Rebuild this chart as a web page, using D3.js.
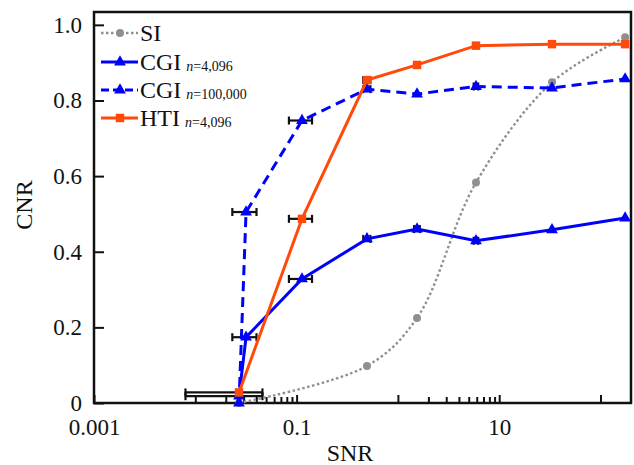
<!DOCTYPE html>
<html>
<head>
<meta charset="utf-8">
<script src="https://cdn.jsdelivr.net/npm/d3@7"></script>
<style>
  body { margin: 0; background: #fff; }
  svg text { font-family: "Liberation Serif", "DejaVu Serif", serif; fill: #111; }
</style>
</head>
<body>
<script>
// values
var snr = [0.027, 0.0317, 0.113, 0.495, 1.545, 5.9, 33.2, 175];

// SI has no points at the 2nd and 3rd SNR
var siSnr = [0.027, 0.495, 1.545, 5.9, 33.2, 175];
var siCnr = [0.0, 0.098, 0.225, 0.583, 0.848, 0.967];

var cgiSmallCnr = [0.018, 0.174, 0.328, 0.434, 0.460, 0.429, 0.458, 0.489];
var cgiSmallErr = [0.019, 0.0085, 0.029, 0.04, 0.1, 0.3, 0, 0];

var cgiLargeCnr = [0.0, 0.505, 0.747, 0.830, 0.817, 0.837, 0.833, 0.857];
var cgiLargeErr = [0, 0.0085, 0.029, 0.04, 0, 0.3, 0, 0];

// HTI skips the 2nd SNR
var htiSnr = [0.027, 0.113, 0.495, 1.545, 5.9, 33.2, 175];
var htiCnr = [0.028, 0.487, 0.854, 0.894, 0.945, 0.949, 0.949];
var htiErr = [0.019, 0.029, 0.04, 0, 0, 0, 0];

var xLabelTicks = [0.001, 0.1, 10];
var xPlainTicks = [1, 100];
var xMinorTicks = [0.01, 0.02, 0.03, 0.04, 0.05, 0.06, 0.07, 0.08, 0.09,
                   2, 3, 4, 5, 6, 7, 8, 9];
var yTicks = [0, 0.2, 0.4, 0.6, 0.8, 1.0];

var w = 634;
var h = 465;
// plot box (window.top is taken, so own names)
var plotL = 94, plotR = 631, plotT = 12, plotB = 403;

var svg = d3.select("body").append("svg")
    .attr("width", w)
    .attr("height", h);

var x = d3.scaleLog().domain([0.001, 200]).range([plotL, plotR]);
var y = d3.scaleLinear().domain([0, 1.034]).range([plotB, plotT]);

var blue = "#0000ff";
var orange = "#ff4a0a";
var grey = "#8f8f8f";

// axes - ticks point inward
var xAxis = svg.append("g")
    .attr("transform", "translate(0," + plotB + ")")
    .call(d3.axisBottom(x)
        .tickValues(xLabelTicks)
        .tickSize(-8)
        .tickPadding(16)
        .tickFormat(function(d) { return d === 0.001 ? "0.001" : d === 0.1 ? "0.1" : "10"; }));
xAxis.selectAll("text").attr("font-size", 23);

svg.append("g")
    .attr("transform", "translate(0," + plotB + ")")
    .call(d3.axisBottom(x).tickValues(xPlainTicks).tickSize(-8).tickFormat(""));

svg.append("g")
    .attr("transform", "translate(0," + plotB + ")")
    .call(d3.axisBottom(x).tickValues(xMinorTicks).tickSize(-6).tickFormat(""));

var yAxis = svg.append("g")
    .attr("transform", "translate(" + plotL + ",0)")
    .call(d3.axisLeft(y)
        .tickValues(yTicks)
        .tickSize(-10)
        .tickPadding(12)
        .tickFormat(function(d) { return d === 0 ? "0" : d.toFixed(1); }));
yAxis.selectAll("text").attr("font-size", 23);

svg.selectAll(".domain").remove();
svg.selectAll(".tick line").attr("stroke", "#111").attr("stroke-width", 2);

// frame
svg.append("rect")
    .attr("x", plotL)
    .attr("y", plotT)
    .attr("width", plotR - plotL)
    .attr("height", plotB - plotT)
    .attr("fill", "none")
    .attr("stroke", "#111")
    .attr("stroke-width", 2.5);

svg.append("text")
    .attr("x", 350)
    .attr("y", 461)
    .attr("text-anchor", "middle")
    .attr("font-size", 24)
    .text("SNR");

svg.append("text")
    .attr("transform", "translate(32,205) rotate(-90)")
    .attr("text-anchor", "middle")
    .attr("font-size", 24)
    .text("CNR");

// error bars first, markers sit over them
function errorBars(xs, ys, errs) {
    var pts = [];
    xs.forEach(function(v, i) {
        if (errs[i] > 0) pts.push({ x0: v - errs[i], x1: v + errs[i], y: ys[i] });
    });
    var g = svg.append("g").attr("stroke", "#111").attr("stroke-width", 2.2);
    g.selectAll("line.bar").data(pts).enter().append("line")
        .attr("x1", function(d) { return x(d.x0); })
        .attr("x2", function(d) { return x(d.x1); })
        .attr("y1", function(d) { return y(d.y); })
        .attr("y2", function(d) { return y(d.y); });
    g.selectAll("line.capl").data(pts).enter().append("line")
        .attr("x1", function(d) { return x(d.x0); })
        .attr("x2", function(d) { return x(d.x0); })
        .attr("y1", function(d) { return y(d.y) - 4; })
        .attr("y2", function(d) { return y(d.y) + 4; });
    g.selectAll("line.capr").data(pts).enter().append("line")
        .attr("x1", function(d) { return x(d.x1); })
        .attr("x2", function(d) { return x(d.x1); })
        .attr("y1", function(d) { return y(d.y) - 4; })
        .attr("y2", function(d) { return y(d.y) + 4; });
}

errorBars(snr, cgiSmallCnr, cgiSmallErr);
errorBars(snr, cgiLargeCnr, cgiLargeErr);
errorBars(htiSnr, htiCnr, htiErr);

function series(xs, ys, opt) {
    var data = xs.map(function(v, i) { return [v, ys[i]]; });
    var line = d3.line()
        .x(function(d) { return x(d[0]); })
        .y(function(d) { return y(d[1]); })
        .curve(opt.curve || d3.curveLinear);
    svg.append("path")
        .datum(data)
        .attr("d", line)
        .attr("fill", "none")
        .attr("stroke", opt.color)
        .attr("stroke-width", opt.width)
        .attr("stroke-dasharray", opt.dash || null);
    svg.append("g").selectAll("path")
        .data(data)
        .enter()
        .append("path")
        .attr("transform", function(d) { return "translate(" + x(d[0]) + "," + y(d[1]) + ")"; })
        .attr("d", d3.symbol().type(opt.symbol).size(opt.size))
        .attr("fill", opt.color);
}

var styles = [
    { color: grey, width: 2.4, dash: "2.5,2.5", symbol: d3.symbolCircle, size: 50, curve: d3.curveCatmullRom.alpha(0.5) },
    { color: blue, width: 3, symbol: d3.symbolTriangle, size: 60 },
    { color: blue, width: 3, dash: "10,6", symbol: d3.symbolTriangle, size: 60 },
    { color: orange, width: 3, symbol: d3.symbolSquare, size: 72 }
];

series(siSnr, siCnr, styles[0]);
series(snr, cgiSmallCnr, styles[1]);
series(snr, cgiLargeCnr, styles[2]);
series(htiSnr, htiCnr, styles[3]);

// legend
var legendNames = ["SI", "CGI", "CGI", "HTI"];
var legendSubs = ["", "n=4,096", "n=100,000", "n=4,096"];
var rowY = [33, 62, 90, 118];

legendNames.forEach(function(name, i) {
    var s = styles[i];
    svg.append("line")
        .attr("x1", 101).attr("x2", 138)
        .attr("y1", rowY[i]).attr("y2", rowY[i])
        .attr("stroke", s.color)
        .attr("stroke-width", s.width)
        .attr("stroke-dasharray", s.dash ? (i === 2 ? "8,4" : s.dash) : null);
    svg.append("path")
        .attr("transform", "translate(120," + rowY[i] + ")")
        .attr("d", d3.symbol().type(s.symbol).size(s.size))
        .attr("fill", s.color);
    var t = svg.append("text")
        .attr("x", 140)
        .attr("y", rowY[i] + 8)
        .attr("font-size", 24)
        .text(name);
    if (legendSubs[i]) {
        var sub = t.append("tspan").attr("dx", 5).attr("dy", 1).attr("font-size", 14);
        sub.append("tspan").attr("font-style", "italic").text("n");
        sub.append("tspan").text(legendSubs[i].slice(1));
    }
});
</script>
</body>
</html>
